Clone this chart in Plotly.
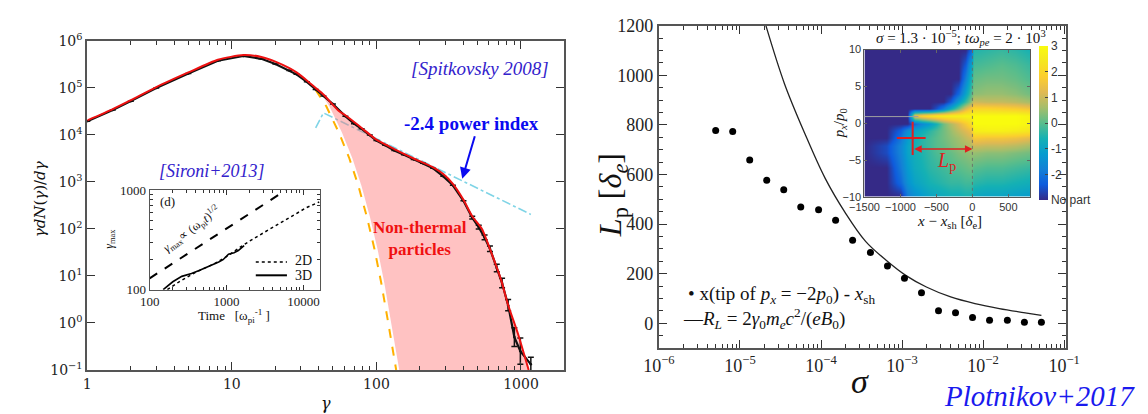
import plotly.graph_objects as go

W, H = 1148, 414
def px(x): return x / W
def py(y): return 1 - y / H

# ---------------- Left panel: particle spectrum ----------------
gamma_fit = [1, 1.5, 2, 3, 5, 8, 12, 16, 20, 25, 28, 33, 38, 43, 55, 61, 79, 100, 133, 181, 247, 290, 338, 400, 460, 537, 630, 733, 815, 953, 1130]
logN_fit = [4.31, 4.55, 4.74, 5.02, 5.33, 5.60, 5.70, 5.66, 5.56, 5.42, 5.33, 5.16, 5.00, 4.86, 4.51, 4.42, 4.15, 3.90, 3.70, 3.50, 3.31, 3.17, 2.96, 2.62, 2.27, 2.00, 1.46, 0.89, 0.38, -0.23, -1.0]

gamma_sim = [1, 1.5, 2, 3, 5, 8, 12, 16, 20, 25, 28, 33, 38, 43, 50, 61, 70, 79, 90, 100, 115, 133, 155, 181, 210, 247, 290, 338, 400, 460, 510, 560, 610, 680, 740, 815, 900, 990, 1170]
logN_sim = [4.29, 4.53, 4.72, 5.00, 5.31, 5.58, 5.68, 5.62, 5.51, 5.37, 5.29, 5.13, 4.97, 4.83, 4.66, 4.40, 4.24, 4.13, 4.00, 3.88, 3.78, 3.67, 3.58, 3.48, 3.40, 3.29, 3.12, 2.93, 2.60, 2.24, 2.04, 1.82, 1.58, 1.17, 0.85, 0.38, -0.30, -0.60, -0.88]
err_sim_dex = [0]*29 + [0.03, 0.04, 0.05, 0.06, 0.08, 0.10, 0.12, 0.20, 0.28, 0.15]

gamma_mx = [38, 45, 55, 65, 75, 86, 97, 108, 120, 137]
logN_mx = [4.96, 4.61, 4.05, 3.50, 2.92, 2.25, 1.57, 0.85, 0.05, -1.0]

gamma_pl = [38, 43, 1170]
logN_pl = [4.15, 4.47, 2.31]

# inset (d): gamma_max vs time
t_2d = [170, 250, 400, 700, 1000, 1700, 2500, 4000, 7000, 11000, 16000]
g_2d = [100, 122, 150, 183, 215, 285, 342, 424, 550, 670, 760]
t_3d = [150, 200, 262, 350, 440, 600, 790, 900, 1060, 1250, 1420, 1690]
g_3d = [100, 120, 136, 145, 156, 172, 190, 200, 227, 235, 247, 277]
t_ref = [100, 5900]
g_ref = [130, 1000]

# ---------------- Right panel: Lp vs sigma ----------------
log_sigma_pts = [-5.30, -5.09, -4.88, -4.67, -4.46, -4.25, -4.03, -3.82, -3.61, -3.39, -3.18, -2.97, -2.76, -2.55, -2.34, -2.13, -1.92, -1.70, -1.49, -1.28]
Lp_pts = [777, 773, 658, 577, 538, 469, 458, 415, 335, 285, 231, 181, 123, 50, 42, 23, 12, 12, 4, 4]

log_sigma_RL = [-4.68, -4.45, -4.20, -3.95, -3.70, -3.45, -3.20, -2.95, -2.70, -2.40, -2.10, -1.80, -1.50, -1.28]
RL_vals = [1200, 965, 765, 585, 445, 330, 255, 192, 146, 106, 79, 59, 43, 32]

# inset phase-space map (log10 density, -3 = no particles)
NP = -3
map_x = [-1500, -1200, -1000, -900, -800, -700, -600, -500, -400, -300, -200, -100, -20, 20, 200, 400, 600, 800]
map_p_top_down = [10, 8, 6, 4, 3, 2, 1, 0, -1, -2, -3, -4, -6, -8, -10]
map_z_top_down = [
    [NP, NP, NP, NP, NP, NP, NP, NP, NP, NP, NP, NP, -2.2, -0.5, -0.4, -0.3, -0.4, -0.6],
    [NP, NP, NP, NP, NP, NP, NP, NP, NP, NP, NP, -2.4, -1.0, -0.2, -0.1, 0.0, -0.1, -0.3],
    [NP, NP, NP, NP, NP, NP, NP, NP, NP, NP, NP, -1.8, -0.5, 0.1, 0.2, 0.2, 0.1, -0.1],
    [NP, NP, NP, NP, NP, NP, NP, NP, NP, NP, -2.2, -1.0, 0.0, 0.4, 0.5, 0.5, 0.4, 0.2],
    [NP, NP, NP, NP, NP, NP, NP, NP, NP, -2.4, -1.2, -0.3, 0.5, 1.0, 0.9, 0.9, 0.8, 0.6],
    [NP, NP, NP, NP, NP, NP, NP, -2.5, -1.8, -0.8, 0.2, 1.2, 1.8, 2.0, 2.0, 1.9, 1.8, 1.6],
    [NP, NP, NP, NP, 1.5, 2.0, 2.3, 2.5, 2.6, 2.7, 2.7, 2.8, 2.8, 3.0, 3.0, 3.0, 3.0, 2.8],
    [NP, NP, NP, NP, -2.2, -1.6, -1.2, -0.6, 0.2, 0.7, 1.2, 1.7, 2.2, 3.0, 3.0, 3.0, 3.0, 2.8],
    [NP, NP, -2.3, -1.5, -1.0, -0.7, -0.4, -0.1, 0.2, 0.5, 0.9, 1.2, 1.5, 2.6, 2.7, 2.7, 2.6, 2.4],
    [NP, NP, -2.0, -1.2, -0.7, -0.4, -0.2, 0.0, 0.2, 0.4, 0.6, 0.9, 1.1, 1.7, 1.6, 1.6, 1.5, 1.3],
    [NP, -2.6, -1.7, -1.0, -0.6, -0.4, -0.2, 0.0, 0.1, 0.3, 0.5, 0.6, 0.8, 1.0, 0.9, 0.9, 0.8, 0.6],
    [NP, -2.6, -1.7, -1.0, -0.7, -0.5, -0.3, -0.1, 0.0, 0.1, 0.3, 0.4, 0.5, 0.5, 0.4, 0.4, 0.3, 0.2],
    [NP, NP, -1.9, -1.2, -0.8, -0.6, -0.4, -0.3, -0.2, -0.1, 0.0, 0.1, 0.2, 0.0, -0.1, -0.1, -0.2, -0.3],
    [NP, NP, -2.2, -1.4, -1.0, -0.8, -0.6, -0.5, -0.4, -0.3, -0.3, -0.2, -0.2, -0.4, -0.5, -0.5, -0.6, -0.7],
    [NP, NP, NP, -1.9, -1.5, -1.2, -1.0, -0.9, -0.8, -0.7, -0.7, -0.6, -0.6, -0.9, -1.0, -1.0, -1.1, -1.2],
]
beam_p = 0.9
Lp_tip_x, Lp_tip_p = -830, -2.0
Lp_arrow_p = -3.5

parula = [[0.0, '#352A87'], [0.1, '#0F5CDD'], [0.2, '#1481D6'], [0.3, '#069CCF'],
          [0.4, '#15B1B4'], [0.5, '#59BD8C'], [0.6, '#A5BE6B'], [0.7, '#E1B952'],
          [0.8, '#FCCE2E'], [0.9, '#F5E621'], [1.0, '#F9FB0E']]

# ---------------- build figure ----------------
fig = go.Figure()

N_fit = [10 ** v for v in logN_fit]
N_sim = [10 ** v for v in logN_sim]
N_mx = [10 ** v for v in logN_mx]
N_pl = [10 ** v for v in logN_pl]

# pink non-thermal region: between fit curve and (slightly shifted) Maxwellian
poly_x = [g for g in gamma_fit if g >= 38] + [g * 1.05 for g in gamma_mx[::-1]]
poly_y = [n for g, n in zip(gamma_fit, N_fit) if g >= 38] + N_mx[::-1]

fig.add_trace(go.Scatter(x=gamma_pl, y=N_pl, mode='lines', xaxis='x', yaxis='y',
                         line=dict(color='#7FD4E6', width=1.6, dash='dashdot'), showlegend=False))
fig.add_trace(go.Scatter(x=poly_x, y=poly_y, mode='lines', fill='toself', xaxis='x', yaxis='y',
                         fillcolor='rgba(255,120,120,0.45)', line=dict(width=0), showlegend=False))
fig.add_trace(go.Scatter(x=gamma_mx, y=N_mx, mode='lines', xaxis='x', yaxis='y',
                         line=dict(color='#FFB000', width=2, dash='dash'), showlegend=False))
err_plus = [n * (10 ** e - 1) for n, e in zip(N_sim, err_sim_dex)]
err_minus = [n * (1 - 10 ** (-e)) for n, e in zip(N_sim, err_sim_dex)]
fig.add_trace(go.Scatter(x=gamma_sim, y=N_sim, mode='lines+markers', xaxis='x', yaxis='y',
                         line=dict(color='#111111', width=2.2),
                         marker=dict(size=2.5, color='#111111'),
                         error_y=dict(type='data', array=err_plus, arrayminus=err_minus,
                                      color='#111111', thickness=1.5, width=3),
                         showlegend=False))
fig.add_trace(go.Scatter(x=gamma_fit, y=N_fit, mode='lines', xaxis='x', yaxis='y',
                         line=dict(color='#EE1111', width=2, shape='spline', smoothing=0.6), showlegend=False))

# inset (d)
fig.add_trace(go.Scatter(x=t_ref, y=g_ref, mode='lines', xaxis='x3', yaxis='y3',
                         line=dict(color='black', width=2, dash='dash'), showlegend=False))
fig.add_trace(go.Scatter(x=t_2d, y=g_2d, mode='lines', xaxis='x3', yaxis='y3',
                         line=dict(color='black', width=1.5, dash='dot'), showlegend=False))
fig.add_trace(go.Scatter(x=t_3d, y=g_3d, mode='lines', xaxis='x3', yaxis='y3',
                         line=dict(color='black', width=1.6), showlegend=False))

# right panel
fig.add_trace(go.Scatter(x=[10 ** v for v in log_sigma_RL], y=RL_vals, mode='lines', xaxis='x2', yaxis='y2',
                         line=dict(color='#222222', width=1.3, shape='spline'), showlegend=False))
fig.add_trace(go.Scatter(x=[10 ** v for v in log_sigma_pts], y=Lp_pts, mode='markers', xaxis='x2', yaxis='y2',
                         marker=dict(size=7, color='black'), showlegend=False))

# phase-space inset heatmap
map_p = map_p_top_down[::-1]
map_z = map_z_top_down[::-1]
fig.add_trace(go.Heatmap(x=map_x, y=map_p, z=map_z, xaxis='x4', yaxis='y4',
                         colorscale=parula, zmin=-3, zmax=3, zsmooth='best',
                         colorbar=dict(x=px(1042), xanchor='left', y=py(110), yanchor='middle',
                                       thickness=9, thicknessmode='pixels', len=154, lenmode='pixels',
                                       outlinewidth=0, xpad=0, ypad=0, ticks='inside', ticklen=3,
                                       tickvals=[-3, -2, -1, 0, 1, 2, 3],
                                       ticktext=['No part', '-2', '-1', '0', '1', '2', '3'],
                                       tickfont=dict(family='Liberation Sans, Arial, sans-serif', size=12, color='#333')),
                         showscale=True, hoverinfo='skip'))
fig.add_trace(go.Scatter(x=[map_x[0], -750], y=[beam_p, beam_p], mode='lines', xaxis='x4', yaxis='y4',
                         line=dict(color='#A0A0A0', width=1), showlegend=False))
fig.add_trace(go.Scatter(x=[0, 0], y=[-10, 10], mode='lines', xaxis='x4', yaxis='y4',
                         line=dict(color='#666666', width=0.8, dash='dot'), showlegend=False))
fig.add_trace(go.Scatter(x=[Lp_tip_x - 220, Lp_tip_x + 180], y=[Lp_tip_p, Lp_tip_p], mode='lines',
                         xaxis='x4', yaxis='y4', line=dict(color='#E02020', width=2), showlegend=False))
fig.add_trace(go.Scatter(x=[Lp_tip_x, Lp_tip_x], y=[Lp_tip_p + 2.2, Lp_tip_p - 2.3], mode='lines',
                         xaxis='x4', yaxis='y4', line=dict(color='#E02020', width=2), showlegend=False))

# ---------------- axes ----------------
serif = 'Liberation Serif, Times New Roman, Times, serif'
dserif = 'DejaVu Serif, serif'
sans = 'Liberation Sans, Arial, sans-serif'
frame = dict(showline=True, mirror='ticks', linecolor='#555555', showgrid=False, zeroline=False, ticks='inside')

minor_log = lambda decs: [m * 10 ** d for d in decs for m in range(2, 10)]

fig.update_layout(
    width=W, height=H, margin=dict(l=0, r=0, t=0, b=0),
    paper_bgcolor='white', plot_bgcolor='white', showlegend=False,
    xaxis=dict(domain=[px(65), px(555)], anchor='y', type='log', range=[0, 3.301],
               tickvals=[1, 10, 100, 1000], ticktext=['1', '10', '100', '1000'],
               ticklen=8, tickwidth=1.3, tickcolor='#333', linewidth=2,
               minor=dict(ticks='inside', ticklen=4, tickcolor='#333', tickvals=minor_log([0, 1, 2, 3])),
               tickfont=dict(family=dserif, size=14, color='#222'), **frame),
    yaxis=dict(domain=[py(368), py(24)], anchor='x', type='log', range=[-1, 6],
               tickvals=[10 ** k for k in range(-1, 7)],
               ticktext=['10<sup>%d</sup>' % k if k >= 0 else '10<sup>−1</sup>' for k in range(-1, 7)],
               ticklen=8, tickwidth=1.3, tickcolor='#333', linewidth=2,
               tickfont=dict(family=dserif, size=14, color='#222'), **frame),
    xaxis2=dict(domain=[px(652), px(1070)], anchor='y2', type='log', range=[-6, -0.976],
                tickvals=[10 ** k for k in range(-6, 0)],
                ticktext=['10<sup>−%d</sup>' % -k for k in range(-6, 0)],
                ticklen=8, tickwidth=1.3, tickcolor='#333', linewidth=2,
                minor=dict(ticks='inside', ticklen=4, tickcolor='#333', tickvals=minor_log([-6, -5, -4, -3, -2])),
                tickfont=dict(family=serif, size=18, color='#222'), **frame),
    yaxis2=dict(domain=[py(345), py(8)], anchor='x2', range=[-100, 1200],
                tickvals=[0, 200, 400, 600, 800, 1000, 1200],
                ticklen=8, tickwidth=1.3, tickcolor='#333', linewidth=2,
                minor=dict(ticks='inside', ticklen=4, tickcolor='#333', dtick=50),
                tickfont=dict(family=serif, size=18, color='#222'), **frame),
    xaxis3=dict(domain=[px(129), px(304)], anchor='y3', type='log', range=[2, 4.215],
                tickvals=[100, 1000, 10000], ticktext=['100', '1000', '10000'],
                ticklen=5, tickcolor='#333', linewidth=1,
                minor=dict(ticks='inside', ticklen=3, tickcolor='#333', tickvals=minor_log([2, 3, 4])),
                tickfont=dict(family=serif, size=13, color='#222'), **frame),
    yaxis3=dict(domain=[py(284), py(180)], anchor='x3', type='log', range=[2, 3],
                tickvals=[100, 1000], ticktext=['100', '1000'],
                ticklen=5, tickcolor='#333', linewidth=1,
                minor=dict(ticks='inside', ticklen=3, tickcolor='#333', tickvals=minor_log([2])),
                tickfont=dict(family=serif, size=13, color='#222'), **frame),
    xaxis4=dict(domain=[px(863), px(1033)], anchor='y4', range=[-1500, 800],
                tickvals=[-1500, -1000, -500, 0, 500], ticklen=3, tickcolor='#666', linewidth=1,
                tickangle=0,
                tickfont=dict(family=sans, size=11, color='#333'), **frame),
    yaxis4=dict(domain=[py(187), py(33)], anchor='x4', range=[-10, 10],
                tickvals=[-10, -5, 0, 5, 10], ticklen=3, tickcolor='#666', linewidth=1,
                tickfont=dict(family=sans, size=11, color='#333'), **frame),
)

# ---------------- annotations ----------------
def ann(x, y, text, size, color='#111', family=serif, angle=0, xanchor='center', **kw):
    fig.add_annotation(x=px(x), y=py(y), xref='paper', yref='paper', text=text, showarrow=False,
                       font=dict(family=family, size=size, color=color), textangle=angle,
                       xanchor=xanchor, yanchor='middle', **kw)

ann(16, 190, '<i>γdN</i>(<i>γ</i>)/<i>dγ</i>', 15, angle=-90, family=dserif)
ann(310, 403, '<i>γ</i>', 16, family=dserif)
ann(468, 53, '<i>[Spitkovsky 2008]</i>', 19, color='#3322CC')
ann(193, 160, '<i>[Sironi+2013]</i>', 18, color='#3322CC')
ann(460, 110, '<b>-2.4 power index</b>', 19, color='#0A0AF0')
ann(407, 230, '<b>Non-thermal<br>particles</b>', 17, color='#F01010')
fig.add_annotation(x=px(450), y=py(168), xref='paper', yref='paper', text='', showarrow=True,
                   ax=13, ay=-44, arrowhead=2, arrowsize=1.1, arrowwidth=2, arrowcolor='#0A0AF0')

# inset (d) labels
ann(147, 192, '(d)', 13)
ann(88, 231, '<i>γ</i><sub>max</sub>', 12, angle=-90)
ann(216, 312, 'Time   [ω<sub>pi</sub><sup>-1</sup> ]', 13)
ann(172, 221, '<i>γ</i><sub>max</sub>∝ (ω<sub>pi</sub><i>t</i>)<sup>1/2</sup>', 12, angle=-37)
ann(276, 254, '2D', 14, xanchor='left')
ann(276, 269, '3D', 14, xanchor='left')
fig.add_shape(type='line', xref='paper', yref='paper', x0=px(238), x1=px(270), y0=py(255), y1=py(255),
              line=dict(color='black', width=1.5, dash='dot'))
fig.add_shape(type='line', xref='paper', yref='paper', x0=px(238), x1=px(270), y0=py(269), y1=py(269),
              line=dict(color='black', width=2))

# right panel labels
ann(605, 185, '<i>L</i><sub>p</sub> [<i>δ<sub>e</sub></i>]', 32, angle=-90)
ann(858, 380, '<i>σ</i>', 34)
ann(680, 290, '• x(tip of <i>p<sub>x</sub></i> = −2<i>p</i><sub>0</sub>) - <i>x</i><sub>sh</sub>', 19, xanchor='left')
ann(675, 314, '—<i>R<sub>L</sub></i> = 2<i>γ</i><sub>0</sub><i>m<sub>e</sub>c</i><sup>2</sup>/(<i>eB</i><sub>0</sub>)', 19, xanchor='left')
ann(1043, 395, '<i>Plotnikov+2017</i>', 29, color='#1A1AEE')
ann(962, 21, '<i>σ</i> = 1.3 · 10<sup>−5</sup>; <i>tω<sub>pe</sub></i> = 2 · 10<sup>3</sup>', 15)
ann(950, 213, '<i>x</i> − <i>x</i><sub>sh</sub> [<i>δ</i><sub>e</sub>]', 15)
ann(838, 110, '<i>p<sub>x</sub></i>/<i>p</i><sub>0</sub>', 15, angle=-90)
ann(947, 150, '<i>L</i><sub>p</sub>', 20, color='#E02020')
fig.add_annotation(x=0, y=Lp_arrow_p, xref='x4', yref='y4', ax=Lp_tip_x, ay=Lp_arrow_p, axref='x4', ayref='y4',
                   text='', showarrow=True, arrowhead=2, startarrowhead=2, arrowside='end+start',
                   arrowsize=1, arrowwidth=1.5, arrowcolor='#E02020')

fig.write_html('out.html')
